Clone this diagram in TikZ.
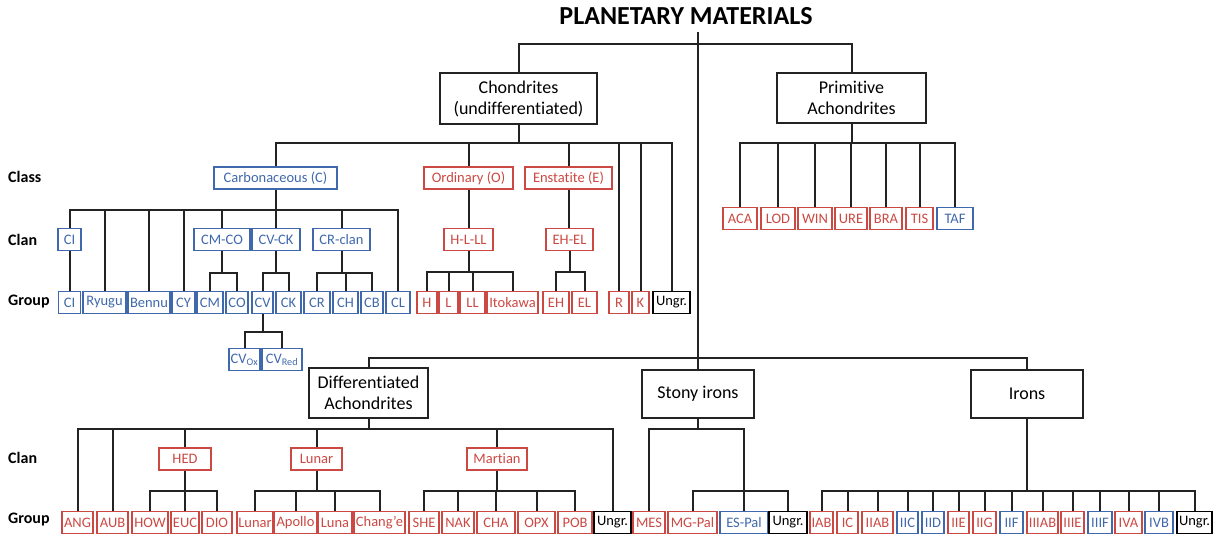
\documentclass[tikz,border=0pt]{standalone}
\usepackage{fontspec}
\setmainfont{Carlito}[RawFeature={-liga,-ccmp,-dlig,-clig,-calt}]
\definecolor{metred}{RGB}{204,72,66}
\definecolor{metblue}{RGB}{64,104,172}
\definecolor{linegray}{RGB}{35,35,35}

\begin{document}
\begin{tikzpicture}[
     x=1pt,y=-1pt,
     main/.style={draw=linegray,line width=2pt,align=center,minimum height=48pt,inner sep=2pt,font=\fontsize{18}{21}\selectfont},
     tag/.style={draw=#1,text=#1,line width=1.3pt,minimum height=22pt,inner xsep=1pt,inner ysep=0pt,font=\fontsize{14.5}{16}\selectfont},
     lbl/.style={anchor=west,inner sep=0pt,font=\fontsize{16}{18}\selectfont\bfseries},
     wire/.style={draw=linegray,line width=2pt}
   ]
   \path[use as bounding box] (0,0) rectangle (1215,536);
   % Root.
   \node[font=\fontsize{26}{30}\selectfont\bfseries] (title) at (686,16) {PLANETARY MATERIALS};
   \coordinate (root) at (698,32);
   \coordinate (top) at (698,44);
   \node[main,minimum width=157pt,minimum height=51pt] (chon) at (518.5,98.5) {Chondrites\\(undifferentiated)};
   \node[main,minimum width=149pt,minimum height=50pt] (prim) at (851.5,98) {Primitive\\Achondrites};
   \draw[wire] (root) -- (top) -| (chon.north);
   \draw[wire] (top) -| (prim.north);
   % Row labels.
   \node[lbl] (lclass) at (8,177) {Class};
   \node[lbl] (lclan) at (8,240) {Clan};
   \node[lbl] (lgroup) at (8,302) {Group};
   \node[lbl] (lclan2) at (8,458) {Clan};
   \node[lbl] (lgroup2) at (8,520) {Group};
   % Chondrites.
   \coordinate (chbar) at (518.5,143);
   \draw[wire] (chon.south) -- (chbar);
   \node[tag=metblue,minimum width=123pt] (carb) at (275.5,178) {Carbonaceous (C)};
   \node[tag=metred,minimum width=89pt] (ord) at (468.5,178) {Ordinary (O)};
   \node[tag=metred,minimum width=87pt] (ens) at (568.5,178) {Enstatite (E)};
   \foreach \n in {carb,ord,ens} \draw[wire] (chbar) -| (\n.north);
   \node[tag=metred,minimum width=20pt] (r) at (619,302.5) {R};
   \node[tag=metred,minimum width=17pt] (k) at (640.5,302.5) {K};
   \node[tag=black,minimum width=37pt] (chungr) at (671.5,302.5) {Ungr.};
   \foreach \n in {r,k,chungr} \draw[wire] (chbar) -| (\n.north);
   % Carbonaceous.
   \coordinate (cbar) at (275.5,210);
   \draw[wire] (carb.south) -- (cbar);
   \node[tag=metblue,minimum width=23pt] (cicl) at (69.5,239.5) {CI};
   \node[tag=metblue,minimum width=56pt] (cmco) at (222,239.5) {CM-CO};
   \node[tag=metblue,minimum width=48pt] (cvck) at (276,239.5) {CV-CK};
   \node[tag=metblue,minimum width=57pt] (crcl) at (341.5,239.5) {CR-clan};
   \foreach \n in {cicl,cmco,cvck,crcl} \draw[wire] (cbar) -| (\n.north);
   \foreach \id/\t/\x/\w in {ryugu/Ryugu/104.5/43,bennu/Bennu/149/42,cy/CY/183.5/23,cl/CL/398/24}
     {\node[tag=metblue,minimum width=\w pt] (\id) at (\x,302.5) {\t};
      \draw[wire] (cbar) -| (\id.north);}
   \node[tag=metblue,minimum width=22pt] (ci) at (69.5,302.5) {CI};
   \draw[wire] (cicl.south) -- (ci.north);
   \coordinate (cmbar) at (222,273);
   \draw[wire] (cmco.south) -- (cmbar);
   \foreach \id/\t/\x/\w in {cm/CM/210/26,co/CO/237/22}
     {\node[tag=metblue,minimum width=\w pt] (\id) at (\x,302.5) {\t};
      \draw[wire] (cmbar) -| (\id.north);}
   \coordinate (cvbar) at (276,273);
   \draw[wire] (cvck.south) -- (cvbar);
   \foreach \id/\t/\x/\w in {cv/CV/262.5/21,ck/CK/288.5/25}
     {\node[tag=metblue,minimum width=\w pt] (\id) at (\x,302.5) {\t};
      \draw[wire] (cvbar) -| (\id.north);}
   \coordinate (crbar) at (341.5,273);
   \draw[wire] (crcl.south) -- (crbar);
   \foreach \id/\t/\x/\w in {cr/CR/317/26,ch/CH/345.5/25,cb/CB/372/22}
     {\node[tag=metblue,minimum width=\w pt] (\id) at (\x,302.5) {\t};
      \draw[wire] (crbar) -| (\id.north);}
   \coordinate (oxbar) at (262.5,332);
   \draw[wire] (cv.south) -- (oxbar);
   \node[tag=metblue,minimum width=31pt] (cvox) at (244.5,359.5) {CV\textsubscript{Ox}};
   \node[tag=metblue,minimum width=40pt] (cvred) at (282,359.5) {CV\textsubscript{Red}};
   \foreach \n in {cvox,cvred} \draw[wire] (oxbar) -| (\n.north);
   % Ordinary and enstatite.
   \node[tag=metred,minimum width=49pt] (hlll) at (468.5,239.5) {H-L-LL};
   \draw[wire] (ord.south) -- (hlll.north);
   \coordinate (hbar) at (468.5,272);
   \draw[wire] (hlll.south) -- (hbar);
   \foreach \id/\t/\x/\w in {h/H/427/20,l/L/448.5/19,ll/LL/472.5/25,ito/Itokawa/512.5/51}
     {\node[tag=metred,minimum width=\w pt] (\id) at (\x,302.5) {\t};
      \draw[wire] (hbar) -| (\id.north);}
   \node[tag=metred,minimum width=47pt] (ehel) at (569.5,239.5) {EH-EL};
   \draw[wire] (ens.south) -- (ens.south |- ehel.north);
   \coordinate (ebar) at (569.5,272);
   \draw[wire] (ehel.south) -- (ebar);
   \foreach \id/\t/\x/\w in {eh/EH/556/26,el/EL/584.5/25}
     {\node[tag=metred,minimum width=\w pt] (\id) at (\x,302.5) {\t};
      \draw[wire] (ebar) -| (\id.north);}
   % Primitive achondrites.
   \coordinate (pbar) at (851.5,143);
   \draw[wire] (prim.south) -- (pbar);
   \foreach \id/\x/\w/\c in {ACA/740/34/metred,LOD/778/34/metred,WIN/815/34/metred,URE/851/32/metred,BRA/886/32/metred,TIS/919.5/27/metred,TAF/955/36/metblue}
     {\node[tag=\c,minimum width=\w pt] (\id) at (\x,218.5) {\id};
      \draw[wire] (pbar) -| (\id.north);}
   % Differentiated, stony irons, irons.
   \node[main,minimum width=119pt,minimum height=50pt] (diff) at (368.5,393) {Differentiated\\Achondrites};
   \node[main,minimum width=112pt] (stony) at (698,393.5) {Stony irons};
   \node[main,minimum width=112pt] (irons) at (1027,393.5) {Irons};
   \coordinate (mid) at (698,358);
   \draw[wire] (top) -- (stony.north);
   \draw[wire] (mid) -| (diff.north);
   \draw[wire] (mid) -| (irons.north);
   % Differentiated achondrites.
   \coordinate (dbar) at (368.5,429);
   \draw[wire] (diff.south) -- (dbar);
   \node[tag=metred,minimum width=52pt] (hed) at (185,459) {HED};
   \node[tag=metred,minimum width=51pt] (lunc) at (316.5,459) {Lunar};
   \node[tag=metred,minimum width=60pt] (mars) at (497,459) {Martian};
   \node[tag=metred,minimum width=31pt] (ang) at (77.5,522.5) {ANG};
   \node[tag=metred,minimum width=31pt] (aub) at (112.5,522.5) {AUB};
   \node[tag=black,minimum width=37pt] (dungr) at (612.5,522.5) {Ungr.};
   \foreach \n in {ang,aub,hed,lunc,mars,dungr} \draw[wire] (dbar) -| (\n.north);
   \coordinate (hedbar) at (185,491);
   \draw[wire] (hed.south) -- (hedbar);
   \foreach \id/\t/\x/\w in {how/HOW/150/36,euc/EUC/185/28,dio/DIO/217/30}
     {\node[tag=metred,minimum width=\w pt] (\id) at (\x,522.5) {\t};
      \draw[wire] (hedbar) -| (\id.north);}
   \coordinate (lbar) at (316.5,491);
   \draw[wire] (lunc.south) -- (lbar);
   \foreach \id/\t/\x/\w in {lun/Lunar/255/36,apo/Apollo/295.5/43,luna/Luna/335/34,chang/Chang'e/379.5/51}
     {\node[tag=metred,minimum width=\w pt] (\id) at (\x,522.5) {\t};
      \draw[wire] (lbar) -| (\id.north);}
   \coordinate (mbar) at (497,491);
   \draw[wire] (mars.south) -- (mbar);
   \foreach \id/\t/\x/\w in {she/SHE/424/30,nak/NAK/458/32,cha/CHA/496/38,opx/OPX/536.5/37,pob/POB/575/34}
     {\node[tag=metred,minimum width=\w pt] (\id) at (\x,522.5) {\t};
      \draw[wire] (mbar) -| (\id.north);}
   % Stony irons.
   \coordinate (sbar) at (698,429);
   \coordinate (pal) at (744,491);
   \draw[wire] (stony.south) -- (sbar);
   \node[tag=metred,minimum width=32pt] (mes) at (649,522.5) {MES};
   \draw[wire] (sbar) -| (mes.north);
   \draw[wire] (sbar) -| (pal);
   \foreach \id/\t/\x/\w/\c in {mgpal/MG-Pal/692.5/49/metred,espal/ES-Pal/744/48/metblue,sungr/Ungr./788/38/black}
     {\node[tag=\c,minimum width=\w pt] (\id) at (\x,522.5) {\t};
      \draw[wire] (pal) -| (\id.north);}
   % Irons.
   \coordinate (ibar) at (1027,491);
   \draw[wire] (irons.south) -- (ibar);
   \foreach \id/\t/\x/\w/\c in {iab/IAB/821.5/23/metred,ic/IC/847.5/21/metred,iiab/IIAB/877.5/31/metred,iic/IIC/907.5/21/metblue,iid/IID/933/22/metblue,iie/IIE/958.5/21/metred,iig/IIG/984.5/23/metred,iif/IIF/1011.5/23/metblue,iiiab/IIIAB/1042.5/31/metred,iiie/IIIE/1072.5/23/metred,iiif/IIIF/1100/24/metblue,iva/IVA/1128.5/27/metred,ivb/IVB/1159/28/metblue,iungr/Ungr./1194.5/35/black}
     {\node[tag=\c,minimum width=\w pt] (\id) at (\x,522.5) {\t};
      \draw[wire] (ibar) -| (\id.north);}
 \end{tikzpicture}
\end{document}
